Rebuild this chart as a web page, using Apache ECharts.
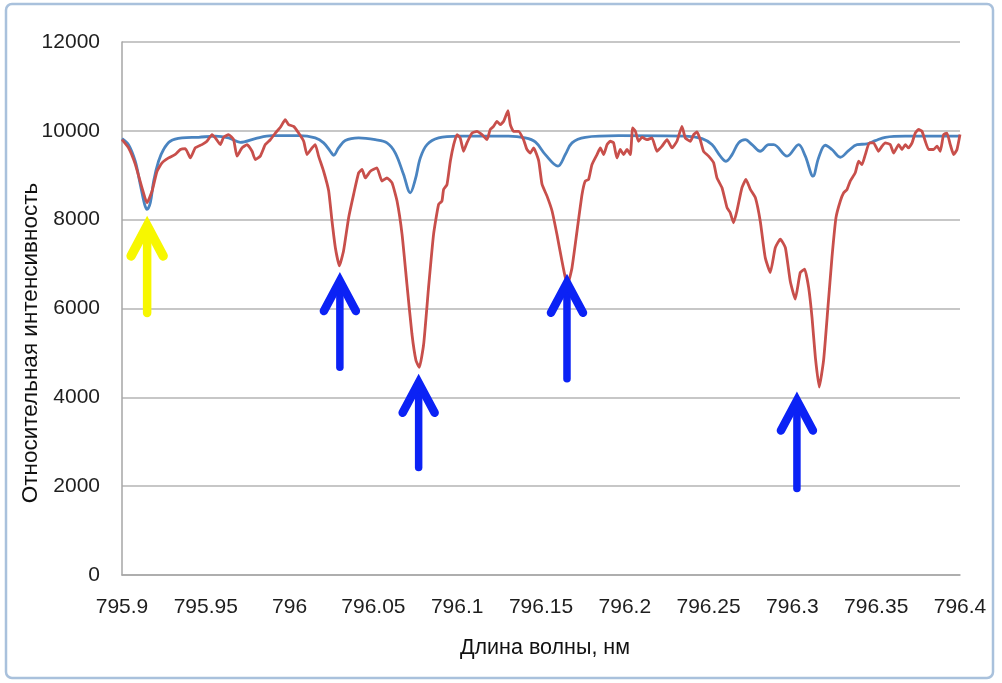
<!DOCTYPE html>
<html>
<head>
<meta charset="utf-8">
<script src="https://cdn.jsdelivr.net/npm/echarts@6/dist/echarts.min.js"></script>
<style>
html,body{margin:0;padding:0;background:#fff;}
#chart{width:1002px;height:683px;}
</style>
</head>
<body>
<div id="chart"></div>
<script>
// Wavelength (nm) and relative intensity
var redX = [795.9000,795.9039,795.9079,795.9119,795.9149,795.9179,795.9209,795.9239,795.9278,795.9318,795.9348,795.9378,795.9408,795.9437,795.9477,795.9507,795.9537,795.9557,795.9587,795.9606,795.9636,795.9666,795.9686,795.9716,795.9746,795.9776,795.9795,795.9825,795.9855,795.9885,795.9915,795.9945,795.9974,795.9994,796.0024,796.0054,796.0084,796.0104,796.0134,796.0153,796.0173,796.0203,796.0233,796.0253,796.0273,796.0297,796.0322,796.0352,796.0382,796.0412,796.0432,796.0452,796.0482,796.0521,796.0551,796.0581,796.0611,796.0641,796.0671,796.0700,796.0730,796.0754,796.0774,796.0800,796.0829,796.0859,796.0889,796.0909,796.0919,796.0939,796.0959,796.0979,796.0999,796.1018,796.1038,796.1058,796.1088,796.1118,796.1148,796.1178,796.1197,796.1217,796.1237,796.1257,796.1277,796.1303,796.1317,796.1336,796.1366,796.1396,796.1416,796.1436,796.1456,796.1486,796.1506,796.1536,796.1566,796.1595,796.1625,796.1645,796.1659,796.1685,796.1715,796.1745,796.1764,796.1784,796.1804,796.1834,796.1854,796.1874,796.1894,796.1913,796.1933,796.1953,796.1973,796.1993,796.2013,796.2033,796.2047,796.2063,796.2082,796.2103,796.2132,796.2162,796.2192,796.2222,796.2252,796.2282,796.2311,796.2341,796.2361,796.2391,796.2411,796.2431,796.2450,796.2470,796.2500,796.2530,796.2550,796.2580,796.2610,796.2629,796.2649,796.2669,796.2699,796.2723,796.2749,796.2779,796.2808,796.2838,796.2868,796.2898,796.2928,796.2958,796.2987,796.3017,796.3047,796.3073,796.3097,796.3117,796.3137,796.3160,796.3186,796.3212,796.3236,796.3260,796.3286,796.3306,796.3326,796.3345,796.3375,796.3395,796.3415,796.3435,796.3459,796.3484,796.3514,796.3535,796.3554,796.3584,796.3604,796.3634,796.3654,796.3674,796.3693,796.3714,796.3733,796.3753,796.3773,796.3793,796.3813,796.3842,796.3863,796.3882,796.3902,796.3922,796.3942,796.3962,796.3982,796.4000];
var redY = [9800,9615,9250,8720,8380,8640,9090,9280,9390,9470,9580,9600,9390,9615,9690,9765,9915,9840,9690,9855,9915,9800,9430,9615,9690,9540,9355,9430,9690,9800,9950,10080,10250,10140,10100,9950,9765,9465,9615,9690,9430,9090,8650,7970,7370,6960,7300,8040,8570,9055,9130,8940,9090,9165,8870,8940,8830,8420,7670,6550,5425,4830,4675,5200,6470,7670,8345,8420,8680,8790,9315,9690,9915,9840,9540,9730,9950,9990,9915,9800,10030,10100,10215,10140,10215,10455,10140,9990,9990,9800,9580,9500,9615,9330,8800,8530,8195,7670,7070,6700,6550,6920,7745,8570,8870,8905,9240,9465,9615,9465,9690,9765,9730,9390,9580,9465,9580,9465,10065,9990,9765,9855,9800,9840,9540,9655,9800,9615,9765,10100,9840,9765,9915,9975,9800,9540,9430,9280,8940,8720,8270,8155,7930,8195,8720,8905,8680,8495,7970,7145,6810,7370,7560,7370,6620,6210,6810,6885,6470,5800,4900,4230,4830,6025,7145,8045,8420,8605,8680,8870,9055,9315,9240,9465,9730,9730,9540,9655,9730,9690,9500,9690,9580,9690,9615,9730,9950,10030,9990,9765,9580,9580,9655,9540,9915,9950,9690,9465,9580,9915];

var blueX = [795.9000,795.9039,795.9079,795.9109,795.9135,795.9149,795.9169,795.9189,795.9218,795.9248,795.9288,795.9358,795.9457,795.9557,795.9636,795.9706,795.9795,795.9895,796.0054,796.0153,796.0203,796.0243,796.0263,796.0292,796.0332,796.0412,796.0511,796.0581,796.0631,796.0680,796.0720,796.0750,796.0780,796.0820,796.0889,796.1008,796.1307,796.1406,796.1466,796.1526,796.1601,796.1645,796.1685,796.1764,796.1963,796.2361,796.2461,796.2520,796.2570,796.2604,796.2640,796.2679,796.2719,796.2759,796.2808,796.2858,796.2888,796.2968,796.3037,796.3077,796.3123,796.3156,796.3196,796.3236,796.3286,796.3335,796.3386,796.3445,796.3495,796.3554,796.3674,796.4000];
var blueY = [9825,9690,9315,8795,8345,8230,8380,8870,9315,9580,9765,9840,9855,9880,9840,9740,9825,9890,9890,9840,9730,9540,9450,9615,9780,9840,9800,9730,9500,9015,8605,8905,9390,9690,9840,9880,9880,9840,9750,9465,9205,9465,9730,9855,9890,9880,9825,9690,9430,9315,9465,9730,9800,9690,9540,9690,9690,9430,9690,9430,8980,9390,9675,9580,9405,9555,9690,9705,9780,9855,9880,9880];

// Arrows: wavelength, tip value, tail value, colour
var arrowX    = [795.915, 796.030, 796.077, 796.1655, 796.3027];
var arrowTip  = [7860, 6620, 4330, 6580, 3930];
var arrowTail = [5900, 4675, 2420, 4420, 1950];
var arrowCol  = ['#f7f700', '#0b22f5', '#0b22f5', '#0b22f5', '#0b22f5'];

var xTicks = {min: 795.9, max: 796.4, interval: 0.05};
var yTicks = {min: 0, max: 12000, interval: 2000};

function zip(a, b) { return a.map(function (v, i) { return [v, b[i]]; }); }

var chart = echarts.init(document.getElementById('chart'), null, {renderer: 'canvas'});
var labelFont = 'Liberation Sans';

chart.setOption({
  animation: false,
  backgroundColor: '#ffffff',
  grid: {left: 122, right: 42, top: 42, bottom: 108, containLabel: false},
  xAxis: {
    type: 'value', min: xTicks.min, max: xTicks.max, interval: xTicks.interval,
    axisLine: {show: true, lineStyle: {color: '#a6a6a6', width: 1.5}},
    axisTick: {show: false},
    splitLine: {show: false},
    axisLabel: {
      margin: 22, color: '#1e1e1e', fontSize: 21, fontFamily: labelFont,
      formatter: function (v) { return String(+v.toFixed(2)); }
    }
  },
  yAxis: {
    type: 'value', min: yTicks.min, max: yTicks.max, interval: yTicks.interval,
    axisLine: {show: true, lineStyle: {color: '#a6a6a6', width: 1.5}},
    axisTick: {show: false},
    splitLine: {show: true, lineStyle: {color: '#b4b4b4', width: 1.5}},
    axisLabel: {margin: 22, color: '#1e1e1e', fontSize: 21, fontFamily: labelFont,
      formatter: function (v) { return String(v); }}
  },
  graphic: [
    {type: 'rect', silent: true, z: 100,
     shape: {x: 6, y: 4, width: 987, height: 674, r: 6},
     style: {fill: 'none', stroke: '#a9c1dc', lineWidth: 2.5}},
    {type: 'text', silent: true, x: 545, y: 648,
     style: {text: 'Длина волны, нм', fill: '#111', font: '21.5px "Liberation Sans"',
             textAlign: 'center', textVerticalAlign: 'middle'}},
    {type: 'text', silent: true, x: 31, y: 343, rotation: Math.PI / 2,
     style: {text: 'Относительная интенсивность', fill: '#111', font: '22.5px "Liberation Sans"',
             textAlign: 'center', textVerticalAlign: 'middle'}}
  ],
  series: [
    {
      name: 'blue', type: 'line', data: zip(blueX, blueY),
      showSymbol: false, smooth: 0.35, z: 2,
      lineStyle: {color: '#4a84c0', width: 2.8}
    },
    {
      name: 'red', type: 'line', data: zip(redX, redY),
      showSymbol: false, smooth: 0.15, z: 3,
      lineStyle: {color: '#c84f4b', width: 2.8}
    },
    {
      name: 'arrows', type: 'custom', z: 5, clip: false,
      data: arrowX.map(function (x, i) { return [x, arrowTip[i], arrowTail[i], i]; }),
      encode: {x: 0, y: [1, 2]},
      renderItem: function (params, api) {
        var i = api.value(3);
        var tip = api.coord([api.value(0), api.value(1)]);
        var tail = api.coord([api.value(0), api.value(2)]);
        var col = arrowCol[i];
        var w = i === 0 ? 8.5 : 7.5;
        return {
          type: 'group',
          children: [
            {type: 'line', shape: {x1: tip[0], y1: tip[1] + 4, x2: tail[0], y2: tail[1]},
             style: {stroke: col, lineWidth: w, lineCap: 'round'}},
            {type: 'polyline', shape: {points: [[tip[0] - 16, tip[1] + 30], [tip[0], tip[1]], [tip[0] + 16, tip[1] + 30]]},
             style: {stroke: col, fill: 'none', lineWidth: w + 1, lineCap: 'round', lineJoin: 'miter', miterLimit: 10}}
          ]
        };
      }
    }
  ]
});
</script>
</body>
</html>
